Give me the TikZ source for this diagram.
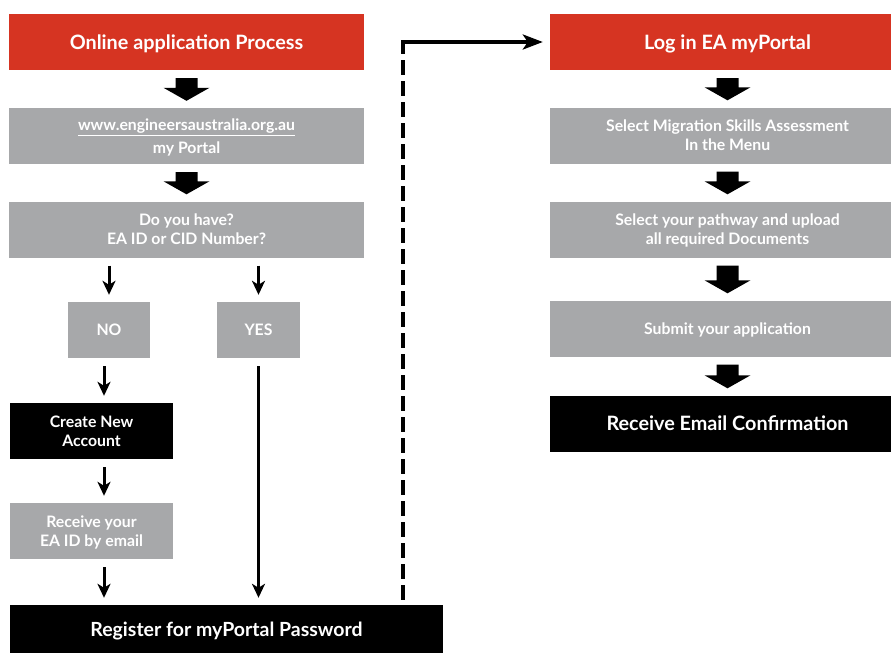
\documentclass[tikz,border=0pt]{standalone}
\usepackage{fontspec}
\setmainfont{Lato}
\usetikzlibrary{calc}
\usetikzlibrary{arrows.meta}

\definecolor{eared}{RGB}{214,52,34}
\definecolor{eagray}{RGB}{167,168,170}

% underlined web address (white rule under the text)
\newcommand{\webline}[1]{\setbox0=\hbox{#1}\rlap{\copy0}\rule[-6pt]{\wd0}{1.8pt}}

% thick block arrow from the bottom of one box to the top of the next
\newcommand{\bigarrow}[2]{%
  \fill ($(#1.south)+(-11,8)$) -- ($(#1.south)+(11,8)$)
     -- ($(#2.north)+(11,-20)$) -- ($(#2.north)+(23,-20)$)
     -- ($(#2.north)+(0,-7)$) -- ($(#2.north)+(-23,-20)$)
     -- ($(#2.north)+(-11,-20)$) -- cycle;}

\tikzset{
  box/.style={inner sep=0pt, align=center, text=white, text depth=0pt,
              font=\bfseries\fontsize{15.8}{19}\selectfont},
  wide/.style={minimum width=355pt, minimum height=56pt},
  redbox/.style={box, wide, fill=eared, font=\bfseries\fontsize{19.8}{23}\selectfont},
  greybox/.style={box, fill=eagray},
  blackbox/.style={box, fill=black},
  thinarrow/.style={line width=3pt, -{Stealth[length=14pt,width=13pt,inset=4pt]},
                    shorten <=8pt, shorten >=7pt},
  dashline/.style={line width=4pt, dash pattern=on 15pt off 6pt, shorten <=5pt},
  linkarrow/.style={line width=3.5pt, -{Stealth[length=20pt,width=15pt,inset=5pt]},
                    shorten <=-2pt, shorten >=7pt},
}

\begin{document}
\begin{tikzpicture}[x=1pt, y=-1pt]
  \clip (0,0) rectangle (891,653);
  \def\lx{186.5}
  \def\rx{727.5}

  % Left column
  \node[redbox] (online) at (\lx,42) {Online application Process};
  \node[greybox, wide] (portal) at (\lx,136)
       {\webline{www.engineersaustralia.org.au}\\[4pt] my Portal};
  \node[greybox, wide] (ask) at (\lx,229.5) {Do you have?\\ EA ID or CID Number?};

  \node[greybox, minimum width=82pt, minimum height=56pt] (no) at (109,330) {NO};
  \node[greybox, minimum width=83pt, minimum height=56pt] (yes) at (258.5,330) {YES};

  \node[blackbox, minimum width=163pt, minimum height=56pt] (create) at (91.5,431)
       {Create New\\ Account};
  \node[greybox, minimum width=163pt, minimum height=56pt] (email) at (91.5,531)
       {Receive your\\ EA ID by email};

  \node[blackbox, minimum width=433pt, minimum height=48pt,
        font=\bfseries\fontsize{19.5}{23}\selectfont] (register) at (226.5,629)
       {Register for myPortal Password};

  % Right column
  \node[redbox] (login) at (\rx,42) {Log in EA myPortal};
  \node[greybox, wide] (migration) at (\rx,135.5)
       {Select Migration Skills Assessment\\ In the Menu};
  \node[greybox, wide] (pathway) at (\rx,229.5)
       {Select your pathway and upload\\ all required Documents};
  \node[greybox, wide] (submit) at (\rx,328.5) {Submit your application};
  \node[blackbox, wide, font=\bfseries\fontsize{19.8}{23}\selectfont] (confirm) at (\rx,423.5)
       {Receive Email Confirmation};

  % Block arrows
  \bigarrow{online}{portal}
  \bigarrow{portal}{ask}
  \bigarrow{login}{migration}
  \bigarrow{migration}{pathway}
  \bigarrow{pathway}{submit}
  \bigarrow{submit}{confirm}

  % Thin arrows
  \coordinate (lane) at (104,0);
  \draw[thinarrow] (ask.south -| no) -- (no);
  \draw[thinarrow] (ask.south -| yes) -- (yes);
  \draw[thinarrow] (no.south -| lane) -- (create.north -| lane);
  \draw[thinarrow] (create.south -| lane) -- (email.north -| lane);
  \draw[thinarrow] (email.south -| lane) -- (register.north -| lane);
  \draw[thinarrow] (yes) -- (register.north -| yes);

  % Link to the second column
  \coordinate (bend) at (403,0);
  \draw[dashline] (register.north -| bend) -- (bend |- login.west);
  \draw[linkarrow] (bend |- login.west) -- (login.west);
\end{tikzpicture}
\end{document}
